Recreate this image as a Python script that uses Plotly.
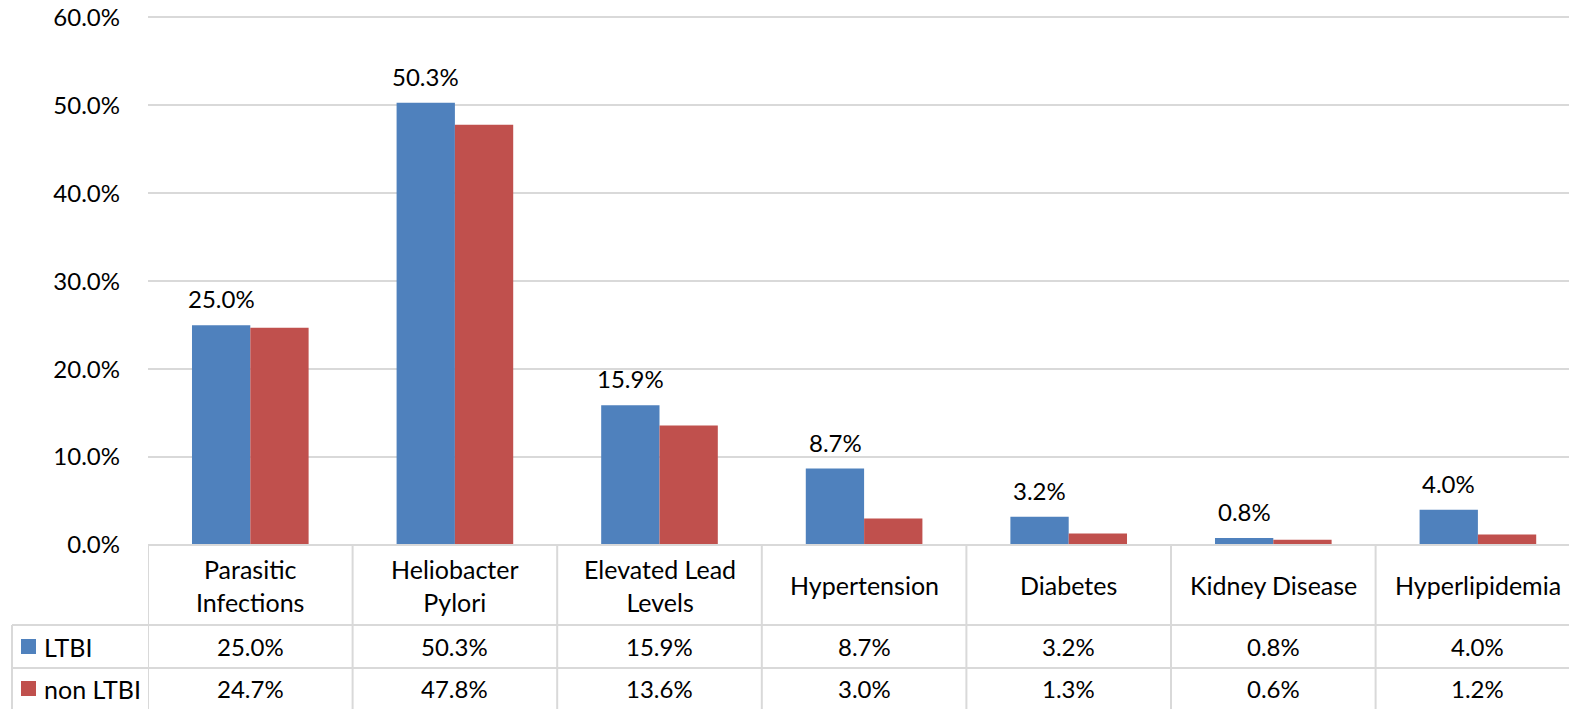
import plotly.graph_objects as go

categories = ["Parasitic<br>Infections", "Heliobacter<br>Pylori", "Elevated Lead<br>Levels",
              "Hypertension", "Diabetes", "Kidney Disease", "Hyperlipidemia"]
ltbi = [25.0, 50.3, 15.9, 8.7, 3.2, 0.8, 4.0]
non_ltbi = [24.7, 47.8, 13.6, 3.0, 1.3, 0.6, 1.2]
series_names = ["LTBI", "non LTBI"]
colors = ["#4F81BD", "#C0504D"]
y_ticks = [0, 10, 20, 30, 40, 50, 60]

OFF = 8  # page body margin
W, H = 1577 - OFF, 709 - OFF
L = 148 - OFF
y_max = 0.605
plot_bottom = 545 - OFF
px_per_unit = 88 / 0.1
T = round(plot_bottom - y_max * px_per_unit)
B = H - plot_bottom
plot_h = H - T - B
plot_w = W - L
col_w = 204.6
FONT = "Lato, Carlito, 'Open Sans', sans-serif"
FS = 24
FS_HDR = 25
GRID = "#d9d9d9"

def py(pix):  # reference pixel -> paper
    return (545 - pix) / plot_h

def px(pix):
    return (pix - 148) / plot_w

idx = list(range(len(categories)))
fig = go.Figure()
for name, vals, c in zip(series_names, [ltbi, non_ltbi], colors):
    fig.add_trace(go.Bar(x=idx, y=[v / 100 for v in vals], name=name, marker_color=c,
                         marker_line_width=0))

shapes = []
annotations = []
for i, v in enumerate(ltbi):
    annotations.append(dict(x=i, y=v / 100, xref="x", yref="y", text=f"{v:.1f}%",
                            showarrow=False, xshift=-29, yshift=10, yanchor="bottom",
                            font=dict(size=FS, color="#000", family=FONT)))

y_top, y_hdr, y_r1, y_bot = 545, 625, 668, 715
x_leg = 12
for yy, x0 in [(y_top, 148), (y_hdr, x_leg), (y_r1, x_leg), (y_bot, x_leg)]:
    shapes.append(dict(type="line", xref="paper", yref="paper", x0=px(x0), x1=1.01,
                       y0=py(yy), y1=py(yy), line=dict(color=GRID, width=2)))
for i in range(len(categories) + 1):
    shapes.append(dict(type="line", xref="x", yref="paper", x0=i - 0.5, x1=i - 0.5,
                       y0=py(y_top), y1=py(y_bot), line=dict(color=GRID, width=2)))
shapes.append(dict(type="line", xref="paper", yref="paper", x0=px(x_leg), x1=px(x_leg),
                   y0=py(y_hdr), y1=py(y_bot), line=dict(color=GRID, width=2)))

for i, c in enumerate(categories):
    annotations.append(dict(x=i, y=py((y_top + y_hdr) / 2), xref="x", yref="paper", text=c,
                            showarrow=False, yanchor="middle", align="center",
                            font=dict(size=FS_HDR, color="#000", family=FONT)))
for r, (name, vals, c) in enumerate(zip(series_names, [ltbi, non_ltbi], colors)):
    yc = [(y_hdr + y_r1) / 2, (y_r1 + 709) / 2][r]
    shapes.append(dict(type="rect", xref="paper", yref="paper", x0=px(21), x1=px(36),
                       y0=py(yc - 7.5), y1=py(yc + 7.5), fillcolor=c, line=dict(width=0)))
    annotations.append(dict(x=px(42), y=py(yc), xref="paper", yref="paper", text=name,
                            showarrow=False, xanchor="left", yanchor="middle",
                            font=dict(size=FS_HDR, color="#000", family=FONT)))
    for i, v in enumerate(vals):
        annotations.append(dict(x=i, y=py(yc), xref="x", yref="paper", text=f"{v:.1f}%",
                                showarrow=False, yanchor="middle",
                                font=dict(size=FS, color="#000", family=FONT)))

fig.update_layout(
    width=W, height=H, margin=dict(l=L, r=0, t=T, b=B, autoexpand=False),
    paper_bgcolor="white", plot_bgcolor="white",
    barmode="group", bargap=0.43, bargroupgap=0,
    showlegend=False,
    shapes=shapes, annotations=annotations,
    font=dict(family=FONT, size=FS, color="#000"),
    xaxis=dict(range=[-0.5, -0.5 + plot_w / col_w], showticklabels=False, showgrid=False,
               zeroline=False, ticks="", fixedrange=True),
    yaxis=dict(range=[0, y_max], tickvals=[t / 100 for t in y_ticks],
               ticktext=[f"{t:.1f}%" for t in y_ticks], showgrid=True, gridcolor=GRID,
               gridwidth=2, zeroline=False, ticks="", ticklabelstandoff=27,
               ticklabeloverflow="allow",
               tickfont=dict(size=FS, color="#000", family=FONT)),
)
fig.write_html("out.html")
